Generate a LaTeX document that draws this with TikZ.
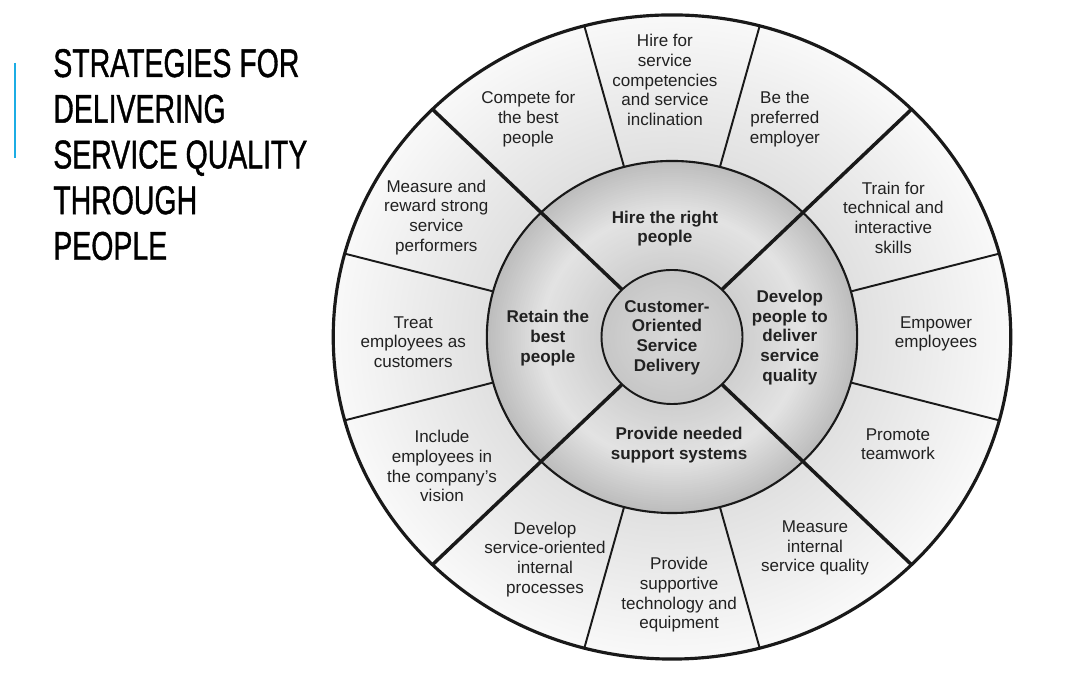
\documentclass[tikz,border=0pt]{standalone}
\usepackage{fontspec}
\setmainfont{Liberation Sans}
\newfontface\titlefont[FakeBold=1.2]{Liberation Sans}
\usetikzlibrary{calc}

\definecolor{titleblue}{RGB}{28,173,228}
\definecolor{ink}{gray}{0.1}
\definecolor{txt}{gray}{0.13}

\begin{document}
\begin{tikzpicture}
    \tikzstyle{every node}=[inner sep=0pt, text=txt]
    \tikzstyle{rimtext}=[align=center, font=\fontsize{9.7}{11.2}\selectfont]
    \tikzstyle{ringtext}=[align=center, font=\fontsize{9.7}{11.2}\selectfont\bfseries]

    \useasboundingbox (0,0) rectangle (21.3,13.46);
    \fill[white] (0,0) rectangle (21.3,13.46);

    % the title with its blue bar
    \draw[line width=1.4pt, titleblue] (0.30,12.20) -- (0.30,10.30);
    \node (title) [anchor=base west, text=black] at (1.06,11.92)
        {\scalebox{0.71}[1]{\titlefont\fontsize{22.8}{26}\selectfont
         \begin{tabular}[t]{@{}l@{}}STRATEGIES FOR\\ DELIVERING\\ SERVICE QUALITY\\
         THROUGH\\ PEOPLE\end{tabular}}};

    % the wheel: core, ring of four, rim of twelve
    \begin{scope}[shift={(13.44,6.72)}, x=0.02104cm, y=0.02cm]
    % shading by hand, outside in
    \foreach \r in {322,320,...,178}{
        \pgfmathsetmacro\k{100-(88+9.5*(\r-176)/146)}
        \fill[black!\k] (0,0) ellipse [x radius=\r, y radius=\r];}
    \foreach \r in {176,174,...,68}{
        \pgfmathsetmacro\k{100-(\r>125 ? 89-15*(\r-125)/51 : 81+8*(\r-67)/58)}
        \fill[black!\k] (0,0) ellipse [x radius=\r, y radius=\r];}
    \foreach \r in {67,65,...,1}{
        \pgfmathsetmacro\k{100-(85-7*\r/67)}
        \fill[black!\k] (0,0) ellipse [x radius=\r, y radius=\r];}

    % thin lines between the fields of the rim
    \foreach \a in {15,75,105,165,195,255,285,345}
        \draw[line width=1.1pt, ink] (\a:176) -- (\a:322);
    % the four thick spokes
    \foreach \a in {45,135,225,315}
        \draw[line width=2pt, ink] (\a:67) -- (\a:322);

    \draw[line width=1.2pt, ink] (0,0) ellipse [x radius=176, y radius=176];
    \draw[line width=1.1pt, ink] (0,0) ellipse [x radius=67, y radius=67];
    \draw[line width=1.8pt, ink] (0,0) ellipse [x radius=322, y radius=322];

    % rim
    \node[rimtext] (hirefor) at (91.5:257) {Hire for\\service\\competencies\\and service\\inclination};
    \node[rimtext] (compete) at (122.1:257) {Compete for\\the best\\people};
    \node[rimtext] (employer) at (63.8:243) {Be the\\preferred\\employer};
    \node[rimtext] (train) at (29.6:242) {Train for\\technical and\\interactive\\skills};
    \node[rimtext] (empower) at (0.7:251) {Empower\\employees};
    \node[rimtext] (teamwork) at (-26.5:240) {Promote\\teamwork};
    \node[rimtext] (internal) at (-57.2:251) {Measure\\internal\\service quality};
    \node[rimtext] (technology) at (-88.5:258) {Provide\\supportive\\technology and\\equipment};
    \node[rimtext] (processes) at (-118.5:253) {Develop\\service-oriented\\internal\\processes};
    \node[rimtext] (vision) at (-149.4:254) {Include\\employees in\\the company's\\vision};
    \node[rimtext] (customers) at (181.2:246) {Treat\\employees as\\customers};
    \node[rimtext] (reward) at (151.9:254) {Measure and\\reward strong\\service\\performers};

    % ring and core
    \node[ringtext] (hire) at (-6.7,108.5) {Hire the right\\people};
    \node[ringtext] (retain) at (-118,-1) {Retain the\\best\\people};
    \node[ringtext] (develop) at (112,-0.5) {Develop\\people to\\deliver\\service\\quality};
    \node[ringtext] (support) at (6.7,-108) {Provide needed\\support systems};
    \node[ringtext] (core) at (-4.8,-0.5) {Customer-\\Oriented\\Service\\Delivery};
    \end{scope}
\end{tikzpicture}
\end{document}
